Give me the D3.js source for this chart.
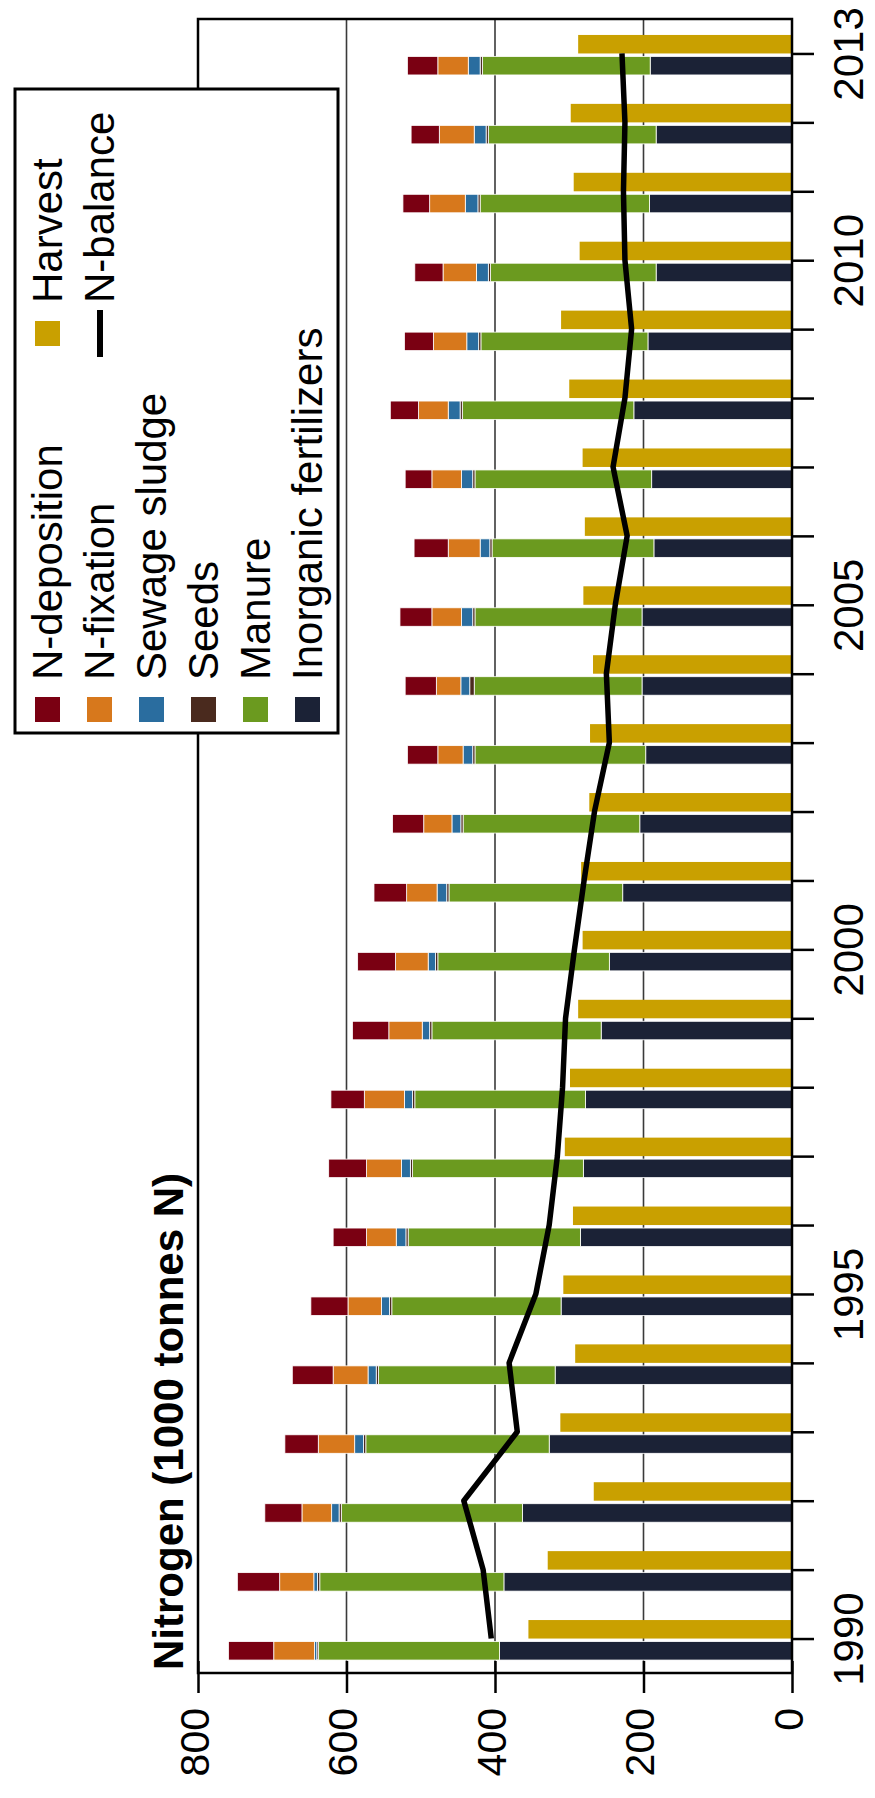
<!DOCTYPE html>
<html><head><meta charset="utf-8">
<script src="https://cdn.jsdelivr.net/npm/d3@7"></script>
<style>
html,body{margin:0;padding:0;background:#fff;}
svg{display:block;font-family:"Liberation Sans",Arial,sans-serif;}
</style></head>
<body>
<svg id="chart" width="875" height="1798"></svg>
<script>
const years = [1990,1991,1992,1993,1994,1995,1996,1997,1998,1999,2000,2001,2002,2003,2004,2005,2006,2007,2008,2009,2010,2011,2012,2013];
const labelYears = [1990,1995,2000,2005,2010,2013];
const valueTicks = [0,200,400,600,800];
const gridTicks = [200,400,600];
const seriesNames = ["Inorganic fertilizers","Manure","Seeds","Sewage sludge","N-fixation","N-deposition"];
const inorganic = [394,388,363,327,319,311,285,281,278,257,246,228,205,197,202,202,186,189,213,194,183,192,183,191];
const manure    = [244,248,244,247,238,228,232,230,230,228,231,234,238,230,226,225,218,238,231,225,223,228,226,226];
const seeds     = [2,3,3,3,3,3,3,3,3,3,3,3,3,3,6,3,3,3,3,3,3,3,3,3];
const sewage    = [3,5,10,12,11,11,13,12,11,10,10,13,12,13,12,15,13,15,16,16,16,17,16,16];
const nFixation = [55,46,40,49,47,45,40,47,54,45,44,41,38,34,33,40,43,40,40,45,45,48,47,41];
const nDeposition=[61,57,50,45,55,50,45,51,45,49,51,44,42,41,42,43,46,36,38,39,38,36,38,41];
const harvest   = [355,329,267,312,292,308,295,306,299,288,282,284,273,272,268,281,279,282,300,311,286,294,298,288];
const nBalance  = [405,416,442,370,381,345,327,316,309,305,293,280,266,246,250,238,222,241,225,216,225,227,225,229];
const colors = {"Inorganic fertilizers":"#1b2236","Manure":"#6b9a1f","Seeds":"#4a2a1e","Sewage sludge":"#2a6d9f","N-fixation":"#d7781c","N-deposition":"#7a0012","Harvest":"#c9a000"};

const svg = d3.select("#chart");
const x = d3.scaleLinear().domain([0,800]).range([792,198]);
const y = d3.scaleLinear().domain([1989.5,2013.5]).range([1673,19]);
const barW = 18.5;

// gridlines
svg.append("g").selectAll("line").data(gridTicks).join("line")
  .attr("x1",d=>x(d)).attr("x2",d=>x(d)).attr("y1",y.range()[1]).attr("y2",y.range()[0])
  .attr("stroke","#3a3a3a").attr("stroke-width",1.6);

// stacked data
const table = years.map((yr,i)=>({year:yr,
  "Inorganic fertilizers":inorganic[i],"Manure":manure[i],"Seeds":seeds[i],
  "Sewage sludge":sewage[i],"N-fixation":nFixation[i],"N-deposition":nDeposition[i]}));
const stack = d3.stack().keys(seriesNames)(table);
svg.append("g").selectAll("g").data(stack).join("g")
  .attr("fill",s=>colors[s.key])
  .selectAll("rect").data(s=>s).join("rect")
  .attr("x",d=>x(d[1])).attr("width",d=>x(d[0])-x(d[1]))
  .attr("y",d=>y(d.data.year)+3).attr("height",barW)
  .attr("stroke","#fff").attr("stroke-width",0.8);

// harvest
svg.append("g").selectAll("rect").data(years).join("rect")
  .attr("x",(d,i)=>x(harvest[i])).attr("width",(d,i)=>x(0)-x(harvest[i]))
  .attr("y",d=>y(d)-barW).attr("height",barW)
  .attr("fill",colors["Harvest"]);

// N-balance line
const line = d3.line().x(d=>x(d[1])).y(d=>y(d[0]));
svg.append("path").datum(years.map((yr,i)=>[yr,nBalance[i]]))
  .attr("d",line).attr("fill","none").attr("stroke","#000").attr("stroke-width",5.5)
  .attr("stroke-linejoin","round");

// frame
svg.append("rect").attr("x",198).attr("y",19).attr("width",792-198).attr("height",1673-19)
  .attr("fill","none").attr("stroke","#000").attr("stroke-width",2.5);

// year axis (right)
const yAxis = svg.append("g").attr("transform","translate(792,0)")
  .call(d3.axisRight(y).tickValues(years).tickSize(22)
    .tickFormat(d=>labelYears.includes(d)?String(d):""));
yAxis.select(".domain").remove();
yAxis.selectAll(".tick line").attr("stroke","#000").attr("stroke-width",2.5);
yAxis.selectAll(".tick text").attr("x",null).attr("dy",null)
  .attr("transform","translate(71,0) rotate(-90)").attr("text-anchor","middle")
  .attr("font-size",42).attr("fill","#000").attr("font-family","Liberation Sans, Arial, sans-serif");

// value axis (bottom)
const xAxis = svg.append("g").attr("transform","translate(0,1673)")
  .call(d3.axisBottom(x).tickValues(valueTicks).tickSize(20).tickFormat(d3.format("d")));
xAxis.select(".domain").remove();
xAxis.selectAll(".tick line").attr("stroke","#000").attr("stroke-width",2.5).attr("y1",-12);
xAxis.selectAll(".tick text").attr("y",null).attr("dy",null)
  .attr("transform","translate(10,35) rotate(-90)").attr("text-anchor","end")
  .attr("font-size",41).attr("fill","#000").attr("font-family","Liberation Sans, Arial, sans-serif");

// title
svg.append("text").attr("transform","translate(183,1670) rotate(-90)")
  .attr("font-size",42).attr("font-weight","bold").attr("fill","#000")
  .text("Nitrogen (1000 tonnes N)");

// legend
const lg = svg.append("g");
lg.append("rect").attr("x",15).attr("y",89).attr("width",323).attr("height",644)
  .attr("fill","#fff").attr("stroke","#000").attr("stroke-width",3);
const legendBottom = ["N-deposition","N-fixation","Sewage sludge","Seeds","Manure","Inorganic fertilizers"];
legendBottom.forEach((name,i)=>{
  const bx = 62 + 52*i;
  lg.append("rect").attr("x",bx-27).attr("y",697).attr("width",25).attr("height",25).attr("fill",colors[name]);
  lg.append("text").attr("transform",`translate(${bx},680) rotate(-90)`)
    .attr("font-size",42).attr("fill","#000").text(name);
});
lg.append("rect").attr("x",35).attr("y",321).attr("width",25).attr("height",25).attr("fill",colors["Harvest"]);
lg.append("text").attr("transform","translate(62,303) rotate(-90)").attr("font-size",42).attr("fill","#000").text("Harvest");
lg.append("line").attr("x1",100).attr("x2",100).attr("y1",310).attr("y2",357).attr("stroke","#000").attr("stroke-width",6);
lg.append("text").attr("transform","translate(114,303) rotate(-90)").attr("font-size",42).attr("fill","#000").text("N-balance");
</script>
</body></html>
